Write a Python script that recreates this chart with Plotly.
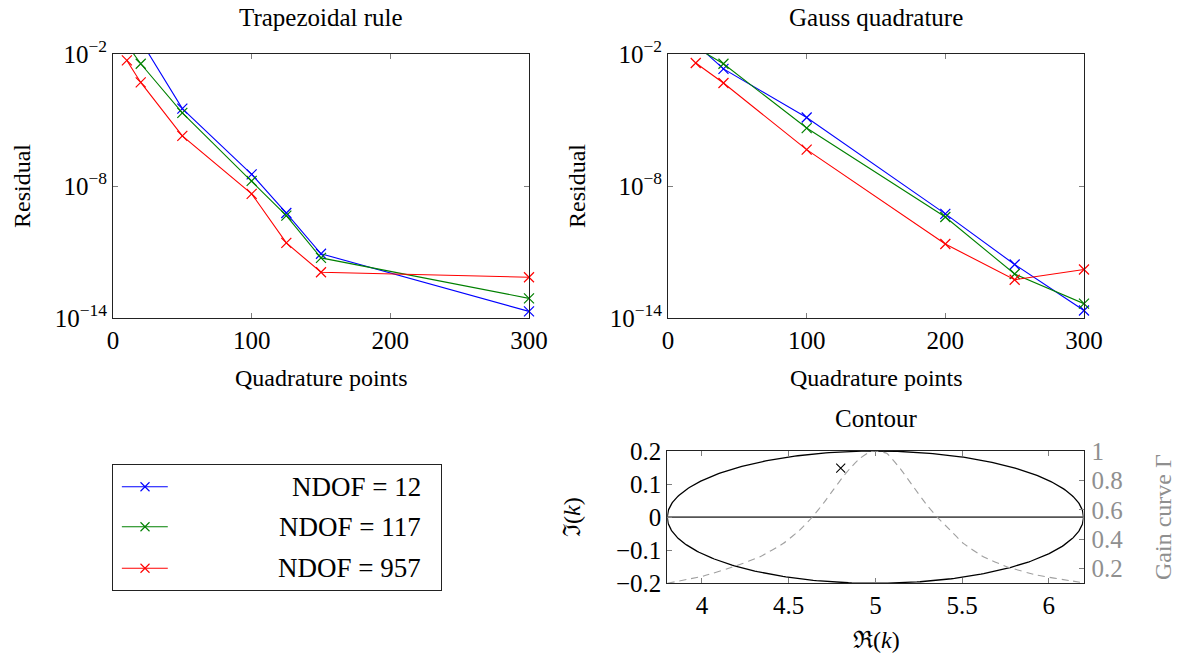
import numpy as np
import plotly.graph_objects as go

# ---- residual data: trapezoidal rule ----
trap_n = [10, 20, 50, 100, 125, 150, 300]
trap_ndof12 = [2e-1, 4e-2, 3.3e-5, 3.4e-8, 5.9e-10, 8.3e-12, 2.0e-14]
trap_ndof117 = [2.7e-2, 3.6e-3, 2.1e-5, 1.7e-8, 4.5e-10, 5.4e-12, 7.8e-14]
trap_ndof957 = [5.1e-3, 5.1e-4, 1.9e-6, 4.4e-9, 2.6e-11, 1.2e-12, 7.1e-13]

# ---- residual data: Gauss quadrature ----
gauss_n = [20, 40, 100, 200, 250, 300]
gauss_ndof12 = [2.9e-2, 2.1e-3, 1.3e-5, 5.4e-10, 2.7e-12, 2.2e-14]
gauss_ndof117 = [2.0e-2, 3.6e-3, 4.3e-6, 3.9e-10, 1.0e-12, 4.5e-14]
gauss_ndof957 = [3.9e-3, 4.8e-4, 4.5e-7, 2.3e-11, 5.5e-13, 1.6e-12]

series_names = ["NDOF = 12", "NDOF = 117", "NDOF = 957"]
series_colors = ["#0000ff", "#008000", "#ff0000"]

# ---- contour (ellipse), eigenvalue and gain curve ----
contour_center = 5.0
contour_rx = 1.2
contour_ry = 0.2
eigen_re = [4.8]
eigen_im = [0.148]
gain_re = [3.80, 4.01, 4.20, 4.335, 4.47, 4.565, 4.633, 4.70, 4.757, 4.806, 4.854, 4.911, 4.969, 5.00,
           5.065, 5.142, 5.219, 5.296, 5.363, 5.43, 5.507, 5.622, 5.757, 5.93, 6.132, 6.20]
gain_val = [0.100, 0.150, 0.220, 0.281, 0.372, 0.463, 0.546, 0.644, 0.735, 0.814, 0.882, 0.950, 0.995, 1.000,
            0.984, 0.882, 0.757, 0.633, 0.542, 0.463, 0.372, 0.281, 0.213, 0.156, 0.116, 0.104]

residual_ticks = [1e-14, 1e-8, 1e-2]
residual_ticktext = ["10<sup>\u221214</sup>", "10<sup>\u22128</sup>", "10<sup>\u22122</sup>"]
residual_top = 1e-2

W, H = 1183, 660
FONT = "Liberation Serif"
TICK_GRAY = "#7f7f7f"
GAIN_GRAY = "#8f8f8f"


def px_x(v):
    return v / W


def px_y(v):
    return 1 - v / H


fig = go.Figure()

# residual curves: lines are clipped to the frame, markers drawn only for in-range points
for ax, xs, ys_list in [("", trap_n, [trap_ndof12, trap_ndof117, trap_ndof957]),
                        ("2", gauss_n, [gauss_ndof12, gauss_ndof117, gauss_ndof957])]:
    for name, col, ys in zip(series_names, series_colors, ys_list):
        fig.add_trace(go.Scatter(
            x=xs, y=ys, mode="lines", name=name, showlegend=False,
            xaxis="x" + ax, yaxis="y" + ax, line=dict(color=col, width=1.1)))
        shown = [(x, y) for x, y in zip(xs, ys) if y <= residual_top]
        fig.add_trace(go.Scatter(
            x=[p[0] for p in shown], y=[p[1] for p in shown], mode="markers", name=name,
            showlegend=False, xaxis="x" + ax, yaxis="y" + ax, cliponaxis=False,
            marker=dict(symbol="x-thin-open", size=10, color=col, line=dict(color=col, width=1.2))))

# contour ellipse
theta = np.linspace(0, 2 * np.pi, 400)
fig.add_trace(go.Scatter(
    x=contour_center + contour_rx * np.cos(theta), y=contour_ry * np.sin(theta),
    mode="lines", line=dict(color="black", width=1.3), showlegend=False,
    xaxis="x3", yaxis="y3"))
# real axis through the contour
fig.add_trace(go.Scatter(
    x=[contour_center - contour_rx, contour_center + contour_rx], y=[0, 0],
    mode="lines", line=dict(color="#555555", width=1.6), showlegend=False,
    xaxis="x3", yaxis="y3"))
# gain curve on secondary axis
fig.add_trace(go.Scatter(
    x=gain_re, y=gain_val, mode="lines", showlegend=False,
    line=dict(color="#a0a0a0", width=1.1, dash="7px,5px", shape="spline", smoothing=0.4),
    xaxis="x3", yaxis="y4"))
# eigenvalue
fig.add_trace(go.Scatter(
    x=eigen_re, y=eigen_im, mode="markers", showlegend=False,
    marker=dict(symbol="x-thin-open", size=9, color="black", line=dict(color="black", width=1.1)),
    xaxis="x3", yaxis="y3"))

# legend drawn in its own boxed axes
leg_rows = [0.826, 0.506, 0.174]
for name, col, ry in zip(series_names, series_colors, leg_rows):
    fig.add_trace(go.Scatter(
        x=[0.027, 0.167], y=[ry, ry], mode="lines", showlegend=False,
        line=dict(color=col, width=1.1), xaxis="x5", yaxis="y5", hoverinfo="skip"))
    fig.add_trace(go.Scatter(
        x=[0.0976], y=[ry], mode="markers", showlegend=False,
        marker=dict(symbol="x-thin-open", size=9, color=col, line=dict(color=col, width=1.1)),
        xaxis="x5", yaxis="y5", hoverinfo="skip"))

tickfont = dict(family=FONT, size=25, color="black")

frame = dict(showline=True, linecolor="#222222", linewidth=1, automargin=False,
             ticks="inside", ticklen=5, tickcolor=TICK_GRAY, tickwidth=1,
             showgrid=False, zeroline=False, tickfont=tickfont)
box = dict(showline=True, mirror=True, linecolor="#222222", linewidth=1, automargin=False,
           showticklabels=False, ticks="", showgrid=False, zeroline=False, fixedrange=True)

dom_top_y = [px_y(318), px_y(54)]
fig.update_layout(
    width=W, height=H, margin=dict(l=0, r=0, t=0, b=0), autosize=False,
    paper_bgcolor="white", plot_bgcolor="white",
    font=dict(family=FONT, color="black", size=24),
    xaxis=dict(domain=[px_x(113), px_x(529)], range=[0, 300], tickvals=[0, 100, 200, 300],
               anchor="y", mirror="ticks", **frame),
    yaxis=dict(domain=dom_top_y, type="log", range=[-14, -2], tickvals=residual_ticks,
               ticktext=residual_ticktext, anchor="x", mirror="ticks", **frame),
    xaxis2=dict(domain=[px_x(668), px_x(1084)], range=[0, 300], tickvals=[0, 100, 200, 300],
                anchor="y2", mirror="ticks", **frame),
    yaxis2=dict(domain=dom_top_y, type="log", range=[-14, -2], tickvals=residual_ticks,
                ticktext=residual_ticktext, anchor="x2", mirror="ticks", **frame),
    xaxis3=dict(domain=[px_x(667.3), px_x(1083.5)], range=[3.8, 6.2],
                tickvals=[4, 4.5, 5, 5.5, 6], ticktext=["4", "4.5", "5", "5.5", "6"], anchor="y3",
                mirror="ticks", **frame),
    yaxis3=dict(domain=[px_y(583.3), px_y(451)], range=[-0.2, 0.2],
                tickvals=[-0.2, -0.1, 0, 0.1, 0.2],
                ticktext=["\u22120.2", "\u22120.1", "0", "0.1", "0.2"], anchor="x3", mirror=True,
                **frame),
    yaxis4=dict(overlaying="y3", side="right", anchor="x3", range=[0.1, 1.0], automargin=False,
                tickvals=[0.2, 0.4, 0.6, 0.8, 1.0], ticktext=["0.2", "0.4", "0.6", "0.8", "1"],
                showline=False, ticks="inside", ticklen=5, tickcolor=TICK_GRAY, showgrid=False,
                zeroline=False, ticklabelstandoff=7,
                tickfont=dict(family=FONT, size=25, color=GAIN_GRAY)),
    xaxis5=dict(domain=[px_x(113), px_x(441)], range=[0, 1], anchor="y5", **box),
    yaxis5=dict(domain=[px_y(590), px_y(465)], range=[0, 1], anchor="x5", **box),
)

title_font = dict(family=FONT, size=25, color="black")
label_font = dict(family=FONT, size=24, color="black")


def paper_text(text, x, y, font, angle=0):
    return dict(text=text, x=px_x(x), y=px_y(y), xref="paper", yref="paper", showarrow=False,
                font=font, xanchor="center", yanchor="middle", textangle=angle)


annotations = [
    paper_text("Trapezoidal rule", 321, 17, title_font),
    paper_text("Gauss quadrature", 876, 17, title_font),
    paper_text("Contour", 876, 418, title_font),
    paper_text("Quadrature points", 321, 378, label_font),
    paper_text("Quadrature points", 876, 378, label_font),
    paper_text("Residual", 22, 186, label_font, -90),
    paper_text("Residual", 577, 186, label_font, -90),
    paper_text("\u211c(<i>k</i>)", 876, 640, label_font),
    paper_text("\u2111(<i>k</i>)", 572, 517, label_font, -90),
    paper_text("Gain curve \u0393", 1163, 517, dict(family=FONT, size=24, color=GAIN_GRAY), -90),
]
for name, ry in zip(series_names, leg_rows):
    annotations.append(dict(text=name, x=0.945, y=ry, xref="x5", yref="y5", showarrow=False,
                            xanchor="right", yanchor="middle",
                            font=dict(family=FONT, size=27, color="black")))
fig.update_layout(annotations=annotations)

fig.write_html("out.html")
